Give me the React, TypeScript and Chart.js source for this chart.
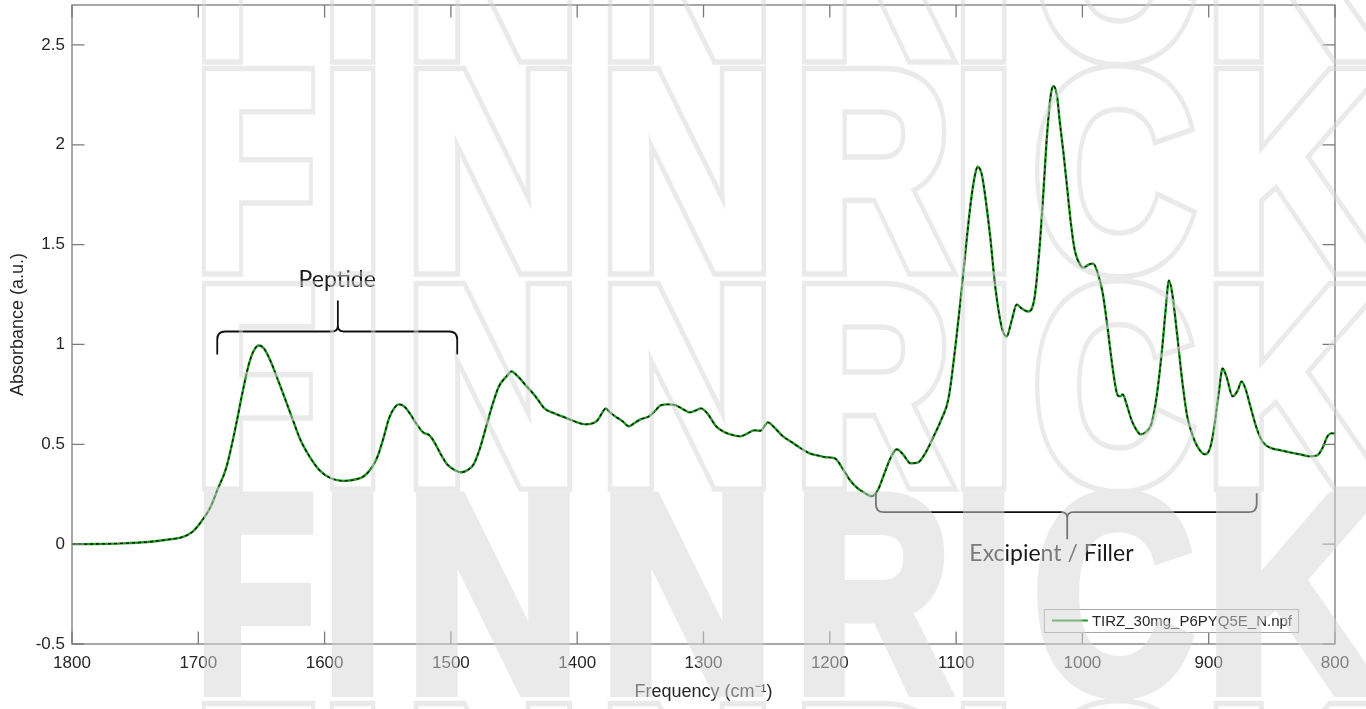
import React, { useEffect, useRef } from "react";
import { Chart, registerables } from "chart.js";

Chart.register(...registerables);

// ---------- data ----------
const FREQ = [
  1800, 1780, 1760, 1740, 1725, 1712, 1705, 1698, 1690, 1685, 1678, 1670, 1665, 1660, 1656, 1652,
  1648, 1643, 1638, 1632, 1625, 1619, 1612, 1604, 1595, 1585, 1575, 1569, 1563, 1558, 1553, 1549,
  1545, 1541, 1537, 1532, 1527, 1522, 1517, 1513, 1508, 1503, 1498, 1492, 1487, 1482, 1477, 1472,
  1467, 1462, 1456, 1452, 1447, 1440, 1433, 1426, 1418, 1408, 1400, 1394, 1388, 1384, 1380, 1377.5,
  1374, 1370, 1364, 1359, 1355, 1350, 1343, 1338, 1334, 1328, 1322, 1316, 1311, 1306, 1302, 1297,
  1290, 1283, 1276, 1271, 1265, 1260, 1255, 1249, 1244, 1238, 1230, 1223, 1216, 1210, 1203, 1196,
  1190, 1184, 1178, 1172, 1167, 1162, 1157, 1152, 1147, 1142, 1136, 1130, 1124, 1117, 1112, 1106,
  1100, 1096, 1093, 1088, 1085, 1083, 1080, 1078, 1073, 1069, 1064, 1060, 1056, 1052, 1048, 1043,
  1038, 1034, 1031, 1028, 1025, 1023, 1020, 1018, 1015, 1012, 1009, 1006, 1002, 999, 995, 991.5,
  988, 984, 980, 976, 972, 970, 968, 965, 961, 957, 954, 950, 945, 941, 937, 934,
  931.5, 929, 925, 921, 917, 913, 909, 903, 899, 896, 892, 889, 886, 881, 877, 874,
  871, 867, 862, 857, 850, 843, 836, 828, 820, 814, 810, 806, 803, 800,
];
const ABSORBANCE = [
  0.0, 0.001, 0.004, 0.011, 0.022, 0.037, 0.06, 0.11, 0.19, 0.27, 0.38, 0.6, 0.76, 0.9, 0.97, 0.995,
  0.98, 0.92, 0.84, 0.74, 0.62, 0.52, 0.44, 0.37, 0.33, 0.317, 0.325, 0.34, 0.38, 0.44, 0.54, 0.63,
  0.68, 0.7, 0.69, 0.65, 0.6, 0.56, 0.545, 0.51, 0.45, 0.4, 0.375, 0.36, 0.37, 0.4, 0.48, 0.59,
  0.7, 0.79, 0.84, 0.865, 0.84, 0.79, 0.74, 0.68, 0.655, 0.63, 0.61, 0.6, 0.605, 0.62, 0.66, 0.68,
  0.66, 0.64, 0.615, 0.59, 0.605, 0.625, 0.64, 0.67, 0.695, 0.7, 0.695, 0.675, 0.66, 0.67, 0.68, 0.655,
  0.59, 0.56, 0.545, 0.54, 0.555, 0.57, 0.568, 0.61, 0.585, 0.545, 0.51, 0.48, 0.455, 0.445, 0.435, 0.43,
  0.38, 0.32, 0.28, 0.255, 0.24, 0.27, 0.35, 0.43, 0.475, 0.45, 0.405, 0.41, 0.46, 0.55, 0.62, 0.73,
  1.02, 1.25, 1.44, 1.73, 1.85, 1.89, 1.86, 1.79, 1.54, 1.29, 1.09, 1.04, 1.12, 1.2, 1.18, 1.165,
  1.23, 1.48, 1.75, 2.05, 2.25, 2.295, 2.24, 2.12, 1.96, 1.78, 1.6, 1.47, 1.4, 1.385, 1.4, 1.405,
  1.36, 1.26, 1.08, 0.88, 0.745, 0.74, 0.75, 0.7, 0.62, 0.57, 0.55, 0.56, 0.61, 0.75, 0.97, 1.18,
  1.32, 1.26, 1.05, 0.82, 0.64, 0.55, 0.49, 0.45, 0.48, 0.57, 0.76, 0.88, 0.84, 0.74, 0.77, 0.815,
  0.78, 0.69, 0.58, 0.51, 0.48, 0.47, 0.46, 0.45, 0.44, 0.445, 0.48, 0.54, 0.555, 0.555,
];
const X_TICKS = [1800, 1700, 1600, 1500, 1400, 1300, 1200, 1100, 1000, 900, 800];
const Y_TICKS = [-0.5, 0, 0.5, 1, 1.5, 2, 2.5];
const X_RANGE = [800, 1800];
const Y_RANGE = [-0.5, 2.7];
const SERIES_LABEL = "TIRZ_30mg_P6PYQ5E_N.npf";
const X_TITLE = "Frequency (cm\u207B\u00B9)";
const Y_TITLE = "Absorbance (a.u.)";

// brace annotations: [from, to, mid, label] in cm-1, [line, ends, tip, label] in absorbance
const PEPTIDE_X = [1685, 1495, 1589.5, 1590];
const PEPTIDE_Y = [1.065, 0.95, 1.22, 1.325];
const PEPTIDE_TEXT = "Peptide";
const EXCIPIENT_X = [1163.5, 862, 1012, 1024.5];
const EXCIPIENT_Y = [0.16, 0.255, 0.025, -0.045];
const EXCIPIENT_TEXT = "Excipient / Filler";

// decorative watermark (page layout, not data)
const WATERMARK_LETTERS = ["F", "I", "N", "N", "R", "I", "C", "K"];
const WATERMARK_BOXES = [
  [203, 314], [331, 375], [415, 570], [609, 764], [803, 952], [962, 1006], [1035, 1195], [1215, 1385],
];
const WATERMARK_ROW_TOPS = [-144, 68, 283, 491, 703];
const WATERMARK_FILLED_ROW = 3;

// ---------- styles ----------
const FONT = '"Liberation Sans", Arial, Helvetica, sans-serif';
const WM_FONT = '"Liberation Sans", Arial, sans-serif';
const NOTE_FONT = 'Lato, "Open Sans", sans-serif';
const AXIS_COLOR = "#7a7a7a";
const TEXT_COLOR = "#262626";
const GREEN = "#1f9a1f";
const WM_RGB = "rgb(215,215,215)";
const WM_ALPHA = 0.5;

function drawBrace(ctx: CanvasRenderingContext2D, x1: number, x2: number, xm: number, yl: number, ye: number, yt: number) {
  const r = 8;
  const rc = 6;
  const sEnd = Math.sign(ye - yl) || 1;
  const sTip = Math.sign(yt - yl) || -1;
  const dir = Math.sign(x2 - x1) || 1;
  ctx.beginPath();
  ctx.moveTo(x1, ye);
  ctx.lineTo(x1, yl + sEnd * r);
  ctx.quadraticCurveTo(x1, yl, x1 + dir * r, yl);
  ctx.lineTo(xm - dir * rc, yl);
  ctx.quadraticCurveTo(xm, yl, xm, yl + sTip * rc);
  ctx.lineTo(xm, yt);
  ctx.moveTo(xm, yl + sTip * rc);
  ctx.quadraticCurveTo(xm, yl, xm + dir * rc, yl);
  ctx.lineTo(x2 - dir * r, yl);
  ctx.quadraticCurveTo(x2, yl, x2, yl + sEnd * r);
  ctx.lineTo(x2, ye);
  ctx.stroke();
}

function drawWatermark(ctx: CanvasRenderingContext2D, W: number, H: number) {
  const cap = 206;
  const d = 6; // emboldening
  const t = 5.5; // outline thickness
  const off = document.createElement("canvas");
  off.width = W;
  off.height = H;
  const o = off.getContext("2d");
  if (!o) return;
  o.textAlign = "left";
  o.textBaseline = "alphabetic";
  o.font = `bold 100px ${WM_FONT}`;
  const asc = o.measureText("F").actualBoundingBoxAscent || 72;
  const size = (100 * (cap - 2 * d)) / asc;
  o.font = `bold ${size}px ${WM_FONT}`;
  o.lineJoin = "miter";
  o.miterLimit = 3;
  o.fillStyle = "#000";
  o.strokeStyle = "#000";

  const place = (i: number, top: number) => {
    const ch = WATERMARK_LETTERS[i];
    const [l, r] = WATERMARK_BOXES[i];
    const m = o.measureText(ch);
    const ink = m.actualBoundingBoxLeft + m.actualBoundingBoxRight;
    const sx = (r - l) / (ink + 2 * d);
    o.translate(l + (d + m.actualBoundingBoxLeft) * sx, top + cap - d);
    o.scale(sx, 1);
    return ch;
  };

  WATERMARK_ROW_TOPS.forEach((top, row) => {
    const filled = row === WATERMARK_FILLED_ROW;
    // outer shape
    o.globalCompositeOperation = "source-over";
    WATERMARK_LETTERS.forEach((_, i) => {
      o.save();
      const ch = place(i, top);
      o.fillText(ch, 0, 0);
      o.lineWidth = filled ? 2 * d : 2 * d + t;
      o.strokeText(ch, 0, 0);
      o.restore();
    });
    if (!filled) {
      o.globalCompositeOperation = "destination-out";
      WATERMARK_LETTERS.forEach((_, i) => {
        o.save();
        const ch = place(i, top);
        o.fillText(ch, 0, 0);
        o.lineWidth = 2 * d - t;
        o.strokeText(ch, 0, 0);
        o.restore();
      });
    }
  });
  o.globalCompositeOperation = "source-in";
  o.fillStyle = WM_RGB;
  o.fillRect(0, 0, W, H);

  ctx.save();
  ctx.globalAlpha = WM_ALPHA;
  ctx.drawImage(off, 0, 0);
  ctx.restore();
}

const framePlugin = {
  id: "frame",
  beforeDraw(chart: any) {
    const { ctx, width, height } = chart;
    ctx.save();
    ctx.fillStyle = "#ffffff";
    ctx.fillRect(0, 0, width, height);
    ctx.restore();
  },
  afterDraw(chart: any) {
    const { ctx, chartArea: a, scales } = chart;
    const xs = scales.x;
    const ys = scales.y;
    ctx.save();
    // box
    ctx.strokeStyle = AXIS_COLOR;
    ctx.lineWidth = 1.3;
    ctx.strokeRect(a.left, a.top, a.right - a.left, a.bottom - a.top);
    // inward ticks
    const tl = 12.5;
    ctx.beginPath();
    X_TICKS.forEach((v) => {
      const px = xs.getPixelForValue(v);
      ctx.moveTo(px, a.bottom);
      ctx.lineTo(px, a.bottom - tl);
      ctx.moveTo(px, a.top);
      ctx.lineTo(px, a.top + tl);
    });
    Y_TICKS.forEach((v) => {
      const py = ys.getPixelForValue(v);
      ctx.moveTo(a.left, py);
      ctx.lineTo(a.left + tl, py);
      ctx.moveTo(a.right, py);
      ctx.lineTo(a.right - tl, py);
    });
    ctx.stroke();

    // braces and notes
    ctx.strokeStyle = "#111111";
    ctx.lineWidth = 1.8;
    drawBrace(
      ctx,
      xs.getPixelForValue(PEPTIDE_X[0]),
      xs.getPixelForValue(PEPTIDE_X[1]),
      xs.getPixelForValue(PEPTIDE_X[2]),
      ys.getPixelForValue(PEPTIDE_Y[0]),
      ys.getPixelForValue(PEPTIDE_Y[1]),
      ys.getPixelForValue(PEPTIDE_Y[2])
    );
    drawBrace(
      ctx,
      xs.getPixelForValue(EXCIPIENT_X[0]),
      xs.getPixelForValue(EXCIPIENT_X[1]),
      xs.getPixelForValue(EXCIPIENT_X[2]),
      ys.getPixelForValue(EXCIPIENT_Y[0]),
      ys.getPixelForValue(EXCIPIENT_Y[1]),
      ys.getPixelForValue(EXCIPIENT_Y[2])
    );
    ctx.fillStyle = "#1a1a1a";
    ctx.textAlign = "center";
    ctx.textBaseline = "middle";
    ctx.font = `23px ${NOTE_FONT}`;
    ctx.fillText(PEPTIDE_TEXT, xs.getPixelForValue(PEPTIDE_X[3]), ys.getPixelForValue(PEPTIDE_Y[3]));
    ctx.fillText(EXCIPIENT_TEXT, xs.getPixelForValue(EXCIPIENT_X[3]), ys.getPixelForValue(EXCIPIENT_Y[3]));

    // legend box
    ctx.font = `15px ${FONT}`;
    const tw = ctx.measureText(SERIES_LABEL).width;
    const bw = 8 + 36 + 4 + tw + 6;
    const bh = 23;
    const bx = a.right - 37 - bw;
    const by = a.bottom - 12 - bh;
    ctx.fillStyle = "#ffffff";
    ctx.fillRect(bx, by, bw, bh);
    ctx.strokeStyle = "#a6a6a6";
    ctx.lineWidth = 1;
    ctx.strokeRect(bx + 0.5, by + 0.5, bw, bh);
    ctx.strokeStyle = GREEN;
    ctx.lineWidth = 2;
    ctx.beginPath();
    ctx.moveTo(bx + 8, by + bh / 2);
    ctx.lineTo(bx + 44, by + bh / 2);
    ctx.stroke();
    ctx.fillStyle = TEXT_COLOR;
    ctx.textAlign = "left";
    ctx.textBaseline = "middle";
    ctx.fillText(SERIES_LABEL, bx + 48, by + bh / 2 + 1);
    ctx.restore();

    // watermark overlay on top of everything
    drawWatermark(ctx, chart.width, chart.height);
  },
};

export default function App() {
  const ref = useRef<HTMLCanvasElement | null>(null);
  useEffect(() => {
    if (!ref.current) return;
    const points = FREQ.map((f, i) => ({ x: f, y: ABSORBANCE[i] }));
    const chart = new Chart(ref.current, {
      type: "line",
      data: {
        datasets: [
          {
            label: SERIES_LABEL,
            data: points,
            borderColor: GREEN,
            borderWidth: 2.4,
            pointRadius: 0,
            cubicInterpolationMode: "monotone",
            fill: false,
            order: 1,
          },
          {
            label: SERIES_LABEL + " ",
            data: points,
            borderColor: "#0a0a0a",
            borderWidth: 1.3,
            borderDash: [3, 3],
            pointRadius: 0,
            cubicInterpolationMode: "monotone",
            fill: false,
            order: 0,
          },
        ],
      },
      options: {
        animation: false,
        responsive: false,
        maintainAspectRatio: false,
        layout: { padding: { left: 0, right: 31, top: 5, bottom: 0 } },
        plugins: { legend: { display: false }, tooltip: { enabled: false } },
        scales: {
          x: {
            type: "linear",
            reverse: true,
            min: X_RANGE[0],
            max: X_RANGE[1],
            afterBuildTicks: (s: any) => {
              s.ticks = X_TICKS.map((v) => ({ value: v }));
            },
            afterFit: (s: any) => {
              s.height = 65;
              s.paddingLeft = 0;
              s.paddingRight = 0;
            },
            grid: { display: false, drawTicks: false },
            border: { display: false },
            ticks: {
              autoSkip: false,
              maxRotation: 0,
              padding: 9,
              color: TEXT_COLOR,
              font: { family: FONT, size: 17 },
              callback: (v: any) => String(v),
            },
            title: {
              display: true,
              text: X_TITLE,
              color: TEXT_COLOR,
              font: { family: FONT, size: 18 },
              padding: { top: 0, bottom: 6 },
            },
          },
          y: {
            type: "linear",
            min: Y_RANGE[0],
            max: Y_RANGE[1],
            afterBuildTicks: (s: any) => {
              s.ticks = Y_TICKS.map((v) => ({ value: v }));
            },
            afterFit: (s: any) => {
              s.width = 72;
              s.paddingTop = 0;
              s.paddingBottom = 0;
            },
            grid: { display: false, drawTicks: false },
            border: { display: false },
            ticks: {
              padding: 7,
              color: TEXT_COLOR,
              font: { family: FONT, size: 17 },
              callback: (v: any) => String(v),
            },
            title: {
              display: true,
              text: Y_TITLE,
              color: TEXT_COLOR,
              font: { family: FONT, size: 18 },
              padding: { top: 7, bottom: 0 },
            },
          },
        },
      },
      plugins: [framePlugin],
    });
    return () => chart.destroy();
  }, []);
  return (
    <div style={{ position: "fixed", left: 0, top: 0, width: 1366, height: 709, background: "#fff" }}>
      <canvas ref={ref} width={1366} height={709} style={{ display: "block" }} />
    </div>
  );
}
